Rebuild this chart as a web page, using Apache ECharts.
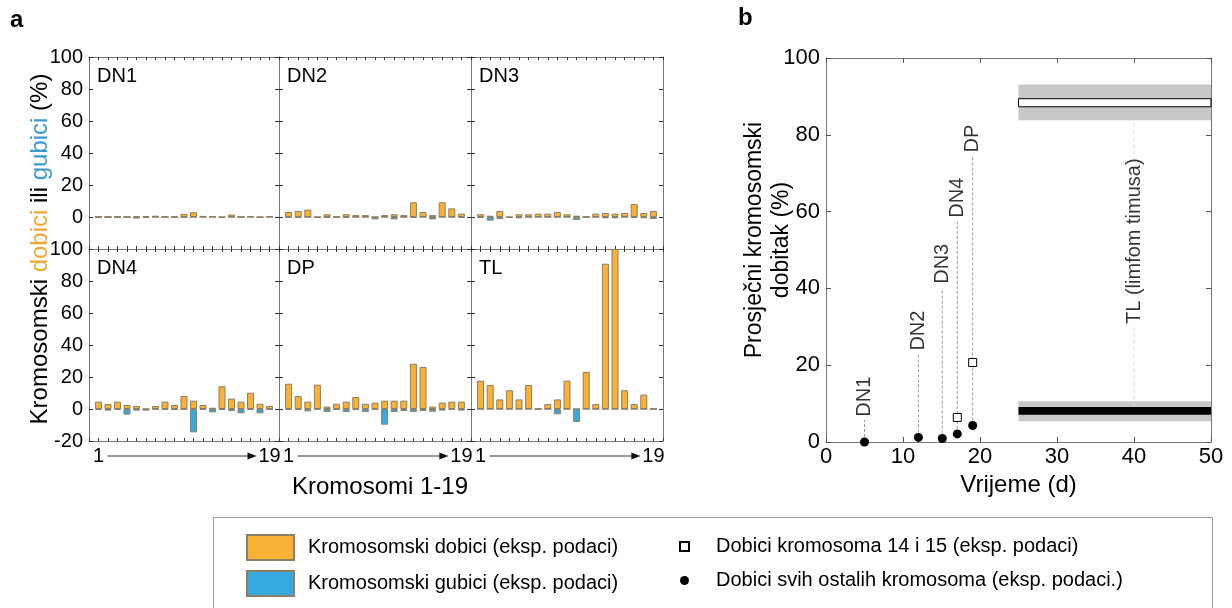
<!DOCTYPE html>
<html><head><meta charset="utf-8">
<script src="https://cdn.jsdelivr.net/npm/echarts@6/dist/echarts.min.js"></script>
<style>html,body{margin:0;padding:0;background:#fff}#c{width:1232px;height:608px}</style>
</head><body><div id="c"></div>
<script>
// ---------- DATA ----------
const chromosomes = [1,2,3,4,5,6,7,8,9,10,11,12,13,14,15,16,17,18,19];
const panelNames = ['DN1','DN2','DN3','DN4','DP','TL'];
const gainsDN1 = [0,0,0,0,0.5,0.6,0.8,0,0,2.0,3.0,0.7,0.6,0,1.5,0,0.6,0,0.6];
const lossesDN1 = [0,0,0,0,-1.0,-0.6,0,0,0,-0.3,0,0,0,-0.6,0,0,0,-0.6,0];
const gainsDN2 = [3.1,3.8,4.6,0,1.7,0,1.7,1.2,1.2,0,1.2,1.7,1.2,9.2,3.1,1.2,9.2,5.4,2.1];
const lossesDN2 = [-0.3,-0.3,0,-0.4,-0.4,0,-0.4,0,0,-1.5,0,-1.5,0,-0.4,0,-1.5,0,0,-0.4];
const gainsDN3 = [1.7,0.8,3.8,0,1.7,1.7,2.1,2.1,3.1,1.7,0.8,0,2.1,2.5,2.1,2.5,8.1,2.5,3.8];
const lossesDN3 = [-0.6,-2.3,-1.2,-0.6,-0.8,0,0,0,0,0,-1.9,0,0,-0.8,-0.8,0,-0.6,-0.8,-1.2];
const gainsDN4 = [4.6,3.1,4.6,2.5,1.9,0,1.9,4.6,2.5,8.1,5.2,2.5,0.8,14.2,6.5,4.6,10.2,3.3,1.9];
const lossesDN4 = [-0.6,-1,-0.4,-3.5,-1,-1,-0.2,-0.4,-0.4,-0.2,-14.6,-0.4,-2.1,-0.6,-1.2,-2.7,-0.6,-2.7,-0.2];
const gainsDP = [15.8,8.1,4.6,15.2,1.5,3.3,4.6,7.5,3.3,4.0,5.2,5.2,5.2,28.3,26.3,1.5,4.0,4.6,4.6];
const lossesDP = [-0.4,-0.4,-1.5,-0.2,-1.9,-0.4,-1.9,-0.4,-1.9,-0.2,-9.8,-1.9,-1.2,-1.9,-1.2,-1.7,-1,-0.4,-1];
const gainsTL = [17.7,15,6,11.7,6,15,0,3.1,6,17.7,0,23.3,3.1,90.8,100,11.7,3.1,9,0];
const lossesTL = [0,0,0,0,0,0,0,0,-3.3,0,-8.1,0,0,0,0,0,0,0,0];
const yTicksA = [-20,0,20,40,60,80,100];

// panel b
const stageNames = ['DN1','DN2','DN3','DN4','DP'];
const stageTimes = [5,12,15.1,17.05,19.05];
const gainOthers = [0,1.2,0.9,2.1,4.3];
const gain1415 = [null,null,null,6.4,20.7];
const labelBase = [6.6,23.8,41.2,58.4,75.4];
const lineTop = [5.8,22.7,40.1,57.4,74.3];
const tlTime = 40;
const tlLabelCenter = 52.3;
const tlX = [25,50];
const tlBand1415 = [83.8,93.1];
const tlBox1415 = [87.3,89.4];
const tlBandOthers = [5.4,10.6];
const tlBarOthers = [7.1,9.1];

const NAME_GAIN = 'Kromosomski dobici (eksp. podaci)';
const NAME_LOSS = 'Kromosomski gubici (eksp. podaci)';
const NAME_SQ = 'Dobici kromosoma 14 i 15 (eksp. podaci)';
const NAME_CI = 'Dobici svih ostalih kromosoma (eksp. podaci.)';

// ---------- STYLE ----------
const FONT = 'Liberation Sans, Arial, sans-serif';
const ORANGE = '#F9B233', BLUE = '#36A9E1', EDGE = '#8c7f66', AX = '#777';
const gainsAll = [gainsDN1,gainsDN2,gainsDN3,gainsDN4,gainsDP,gainsTL];
const lossesAll = [lossesDN1,lossesDN2,lossesDN3,lossesDN4,lossesDP,lossesTL];

const gridA = [
  {left:89, top:57, width:190, height:192},
  {left:279, top:57, width:192, height:192},
  {left:471, top:57, width:192, height:192},
  {left:89, top:249, width:190, height:192},
  {left:279, top:249, width:192, height:192},
  {left:471, top:249, width:192, height:192}
];
const gridB = {left:826, top:58, width:385, height:384};

const grid = [], xAxis = [], yAxis = [], series = [];
gridA.forEach((g,i)=>{
  grid.push(Object.assign({containLabel:false}, g));
  const tick = {show:true, inside:true, length:3, lineStyle:{color:'#333'}};
  xAxis.push({gridIndex:i, type:'value', min:0, max:20, interval:1, position:'bottom',
    axisLine:{onZero:false, lineStyle:{color:AX}}, axisTick:tick, splitLine:{show:false},
    axisLabel:{show:i>=3, fontSize:20, color:'#000', fontFamily:FONT, margin:5,
      formatter:v=> (v===chromosomes[0]||v===chromosomes[chromosomes.length-1]) ? String(v) : ''}});
  xAxis.push({gridIndex:i, type:'value', min:0, max:20, interval:1, position:'top',
    axisLine:{onZero:false, lineStyle:{color:AX}}, axisTick:tick, splitLine:{show:false}, axisLabel:{show:false}});
  yAxis.push({gridIndex:i, type:'value', min:yTicksA[0], max:yTicksA[yTicksA.length-1], interval:20, position:'left',
    axisLine:{show:true, onZero:false, lineStyle:{color:AX}}, axisTick:{show:true, inside:true, length:4, lineStyle:{color:'#333'}},
    splitLine:{show:false},
    axisLabel:{show:i%3===0, fontSize:20, color:'#000', fontFamily:FONT, margin:6,
      formatter:v=> (i<3 && v===yTicksA[0]) ? '' : String(v)}});
  yAxis.push({gridIndex:i, type:'value', min:yTicksA[0], max:yTicksA[yTicksA.length-1], interval:20, position:'right',
    axisLine:{show:true, onZero:false, lineStyle:{color:AX}}, axisTick:{show:true, inside:true, length:4, lineStyle:{color:'#333'}},
    splitLine:{show:false}, axisLabel:{show:false}});
  series.push({type:'bar', name:NAME_GAIN, xAxisIndex:2*i, yAxisIndex:2*i, barWidth:7, barGap:'-100%',
    data:chromosomes.map((c,k)=>[c,gainsAll[i][k]]), silent:true,
    itemStyle:{color:ORANGE, borderColor:EDGE, borderWidth:1}});
  series.push({type:'bar', name:NAME_LOSS, xAxisIndex:2*i, yAxisIndex:2*i, barWidth:7, barGap:'-100%',
    data:chromosomes.map((c,k)=>[c,lossesAll[i][k]]), silent:true,
    itemStyle:{color:BLUE, borderColor:EDGE, borderWidth:1}});
});

// panel b
const gb = grid.length;
grid.push(Object.assign({containLabel:false}, gridB));
const tickB = {show:true, inside:true, length:5, lineStyle:{color:'#555'}};
xAxis.push({gridIndex:gb, type:'value', min:0, max:50, interval:10, position:'bottom',
  axisLine:{onZero:false, lineStyle:{color:AX}}, axisTick:tickB, splitLine:{show:false},
  axisLabel:{fontSize:22, color:'#000', fontFamily:FONT, margin:4},
  name:'Vrijeme (d)', nameLocation:'middle', nameGap:30, nameTextStyle:{fontSize:24, color:'#000', fontFamily:FONT}});
xAxis.push({gridIndex:gb, type:'value', min:0, max:50, interval:10, position:'top',
  axisLine:{onZero:false, lineStyle:{color:AX}}, axisTick:tickB, splitLine:{show:false}, axisLabel:{show:false}});
yAxis.push({gridIndex:gb, type:'value', min:0, max:100, interval:20, position:'left',
  axisLine:{show:true, onZero:false, lineStyle:{color:AX}}, axisTick:tickB, splitLine:{show:false},
  axisLabel:{fontSize:22, color:'#000', fontFamily:FONT, margin:6}});
yAxis.push({gridIndex:gb, type:'value', min:0, max:100, interval:20, position:'right',
  axisLine:{show:true, onZero:false, lineStyle:{color:AX}}, axisTick:tickB, splitLine:{show:false}, axisLabel:{show:false}});
const xb = 2*gb, yb = 2*gb;

// TL bands
const bandData = [
  [tlX[0], tlX[1], tlBand1415[0], tlBand1415[1], 0],
  [tlX[0], tlX[1], tlBandOthers[0], tlBandOthers[1], 0],
  [tlX[0], tlX[1], tlBox1415[0], tlBox1415[1], 1],
  [tlX[0], tlX[1], tlBarOthers[0], tlBarOthers[1], 2]
];
series.push({type:'custom', xAxisIndex:xb, yAxisIndex:yb, silent:true, z:1,
  encode:{x:[0,1], y:[2,3]}, data:bandData,
  renderItem:(params, api)=>{
    const p0 = api.coord([api.value(0), api.value(3)]);
    const p1 = api.coord([api.value(1), api.value(2)]);
    const kind = api.value(4);
    const style = kind===0 ? {fill:'#C8C8C8'} : kind===1 ? {fill:'#fff', stroke:'#000', lineWidth:1} : {fill:'#000'};
    return {type:'rect', shape:{x:p0[0], y:p0[1], width:p1[0]-p0[0], height:p1[1]-p0[1]}, style};
  }});
// dashed connectors
stageTimes.forEach((t,k)=>{
  series.push({type:'line', xAxisIndex:xb, yAxisIndex:yb, silent:true, symbol:'none', z:2,
    lineStyle:{type:[3,2], color:'#9a9a9a', width:1}, data:[[t,gainOthers[k]],[t,lineTop[k]]]});
});
series.push({type:'line', xAxisIndex:xb, yAxisIndex:yb, silent:true, symbol:'none', z:2,
  lineStyle:{type:[4,3], color:'#dcdcdc', width:1}, data:[[tlTime,tlBarOthers[1]],[tlTime,tlBand1415[0]]]});
// stage labels
series.push({type:'scatter', xAxisIndex:xb, yAxisIndex:yb, silent:true, symbolSize:0, z:4,
  data:stageTimes.map((t,k)=>({name:stageNames[k], value:[t,labelBase[k]]})),
  label:{show:true, position:'inside', rotate:90, align:'left', verticalAlign:'middle',
    formatter:p=>p.name, fontSize:20, color:'#000', fontFamily:FONT}});
series.push({type:'scatter', xAxisIndex:xb, yAxisIndex:yb, silent:true, symbolSize:0, z:4,
  data:[{name:'TL (limfom timusa)', value:[tlTime,tlLabelCenter]}],
  label:{show:true, position:'inside', rotate:90, align:'center', verticalAlign:'middle',
    formatter:p=>p.name, fontSize:20, color:'#000', fontFamily:FONT, backgroundColor:'#fff', padding:[0,4]}});
// points
series.push({type:'scatter', name:NAME_SQ, xAxisIndex:xb, yAxisIndex:yb, silent:true, symbol:'rect', symbolSize:8, z:5,
  data:stageTimes.map((t,k)=>[t,gain1415[k]]).filter(d=>d[1]!==null),
  itemStyle:{color:'#fff', borderColor:'#000', borderWidth:1, opacity:1}});
series.push({type:'scatter', name:NAME_CI, xAxisIndex:xb, yAxisIndex:yb, silent:true, symbol:'circle', symbolSize:9, z:5,
  data:stageTimes.map((t,k)=>[t,gainOthers[k]]),
  itemStyle:{color:'#000', opacity:1}});

const chart = echarts.init(document.getElementById('c'));
chart.setOption({
  animation:false,
  textStyle:{fontFamily:FONT},
  grid, xAxis, yAxis, series,
  legend:[
    {orient:'vertical', left:246, top:534, padding:0, itemWidth:47, itemHeight:25, itemGap:9, selectedMode:false,
     data:[{name:NAME_GAIN, icon:'rect'}, {name:NAME_LOSS, icon:'rect'}],
     textStyle:{fontSize:20, color:'#000', fontFamily:FONT, lineHeight:25, padding:[0,0,0,9]}},
    {orient:'vertical', left:679, top:534, padding:0, itemWidth:9, itemHeight:9, itemGap:9, selectedMode:false,
     data:[NAME_SQ, NAME_CI], textStyle:{fontSize:20, color:'#000', fontFamily:FONT, lineHeight:25, padding:[0,0,0,22]}}
  ]
});

// graphics positioned from the axes
const gfx = [];
gfx.push({type:'text', left:10, top:8, style:{text:'a', font:'bold 24px '+FONT, fill:'#000'}});
gfx.push({type:'text', left:738, top:6, style:{text:'b', font:'bold 24px '+FONT, fill:'#000'}});
gridA.forEach((g,i)=>{
  gfx.push({type:'text', x:g.left+8, y:g.top+9, style:{text:panelNames[i], font:'20px '+FONT, fill:'#000'}});
  if (i>=3) {
    const a = chart.convertToPixel({xAxisIndex:2*i, yAxisIndex:2*i}, [chromosomes[0], yTicksA[0]]);
    const b = chart.convertToPixel({xAxisIndex:2*i, yAxisIndex:2*i}, [chromosomes[chromosomes.length-1], yTicksA[0]]);
    const y = a[1] + 15;
    const x0 = a[0] + 9, x1 = b[0] - 13;
    gfx.push({type:'line', shape:{x1:x0, y1:y, x2:x1-7, y2:y}, style:{stroke:'#333', lineWidth:1}});
    gfx.push({type:'polygon', shape:{points:[[x1-9,y-3.5],[x1,y],[x1-9,y+3.5]]}, style:{fill:'#111'}});
  }
});
// panel a axis titles
const aTop = gridA[0].top, aBot = gridA[3].top + gridA[3].height;
const aLeft = gridA[0].left, aRight = gridA[2].left + gridA[2].width;
gfx.push({type:'text', x:40, y:(aTop+aBot)/2, rotation:Math.PI/2,
  style:{text:'{k|Kromosomski }{o|dobici}{k| ili }{b|gubici}{k| (%)}', align:'center', verticalAlign:'middle',
    rich:{k:{fontSize:24, fill:'#000', fontFamily:FONT}, o:{fontSize:24, fill:'#F0A830', fontFamily:FONT}, b:{fontSize:24, fill:'#3B9AD0', fontFamily:FONT}}}});
gfx.push({type:'text', x:(aLeft+aRight)/2+4, y:aBot+46, style:{text:'Kromosomi 1-19', font:'24px '+FONT, fill:'#000', align:'center', verticalAlign:'middle'}});
// panel b y title
gfx.push({type:'text', x:768, y:gridB.top+gridB.height/2 - 10, rotation:Math.PI/2,
  style:{text:'Prosječni kromosomski\ndobitak (%)', font:'23px '+FONT, fill:'#000', align:'center', verticalAlign:'middle', lineHeight:27}});
// legend frame
gfx.push({type:'rect', z:-1, shape:{x:213.5, y:517.5, width:999, height:100}, style:{fill:'none', stroke:'#999', lineWidth:1}});
chart.setOption({graphic:gfx});
</script>
</body></html>
